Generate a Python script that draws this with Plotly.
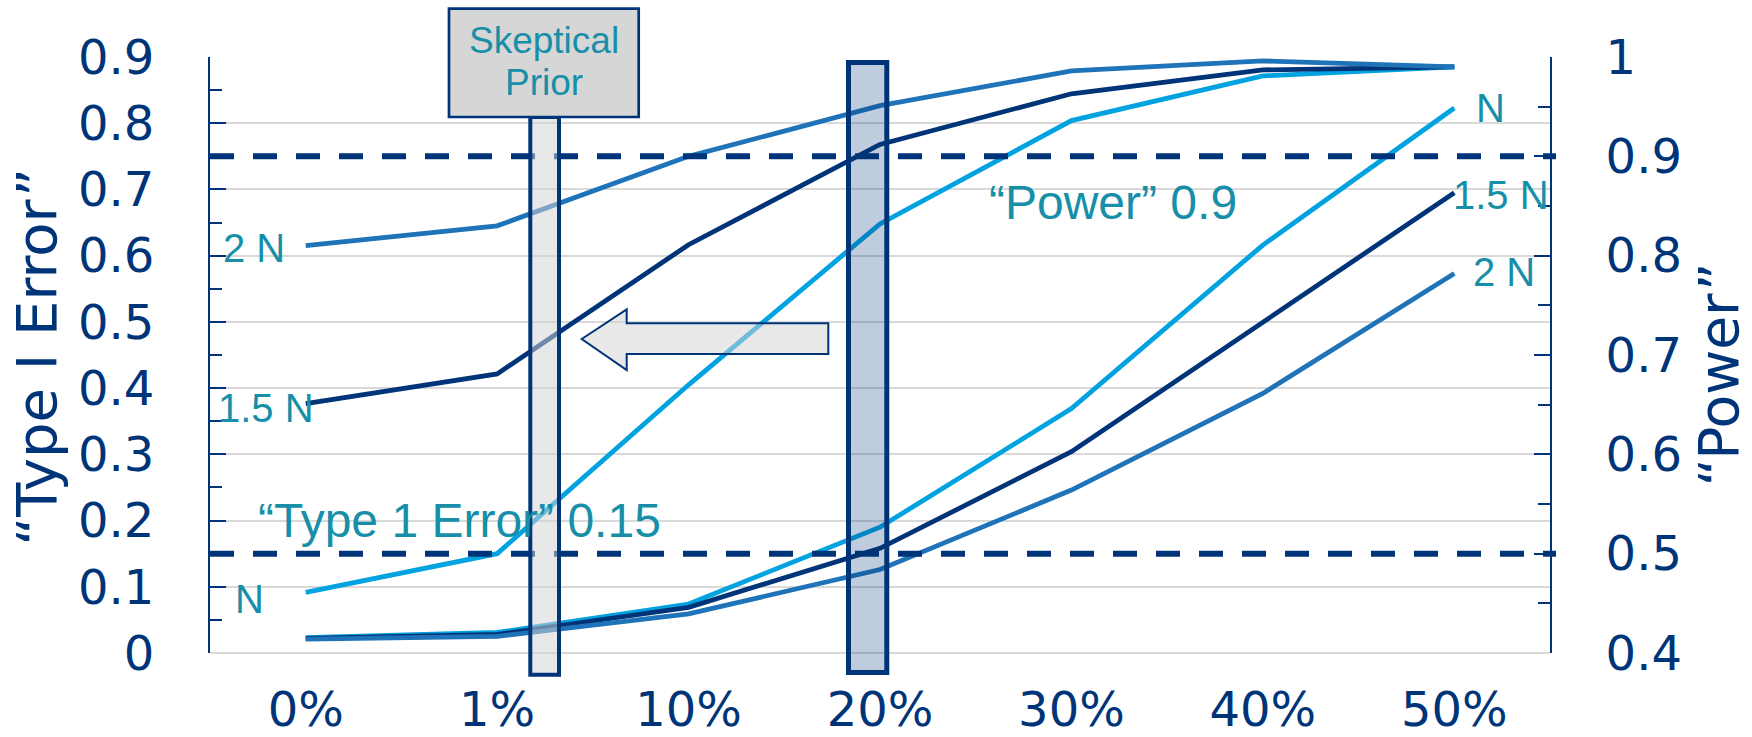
import plotly.graph_objects as go

# ---------------- data ----------------
categories = ["0%", "1%", "10%", "20%", "30%", "40%", "50%"]

type1_N = [0.023, 0.031, 0.074, 0.190, 0.369, 0.616, 0.823]
type1_15N = [0.022, 0.028, 0.069, 0.158, 0.304, 0.499, 0.695]
type1_2N = [0.021, 0.025, 0.059, 0.126, 0.246, 0.392, 0.573]

power_N = [0.461, 0.500, 0.670, 0.832, 0.936, 0.981, 0.990]
power_15N = [0.651, 0.681, 0.811, 0.912, 0.963, 0.987, 0.990]
power_2N = [0.810, 0.830, 0.900, 0.951, 0.986, 0.996, 0.990]

type1_tickvals = [0, 0.1, 0.2, 0.3, 0.4, 0.5, 0.6, 0.7, 0.8, 0.9]
type1_ticktext = ["0", "0.1", "0.2", "0.3", "0.4", "0.5", "0.6", "0.7", "0.8", "0.9"]
power_tickvals = [0.4, 0.5, 0.6, 0.7, 0.8, 0.9, 1.0]
power_ticktext = ["0.4", "0.5", "0.6", "0.7", "0.8", "0.9", "1"]

type1_threshold = 0.15
power_threshold = 0.9

# ---------------- style ----------------
NAVY = "#003478"
LIGHT = "#00a3e0"
MID = "#1f73b8"
TEAL = "#178fa8"
TICKFONT = "Verdana, DejaVu Sans, sans-serif"
TXTFONT = "Arial, Liberation Sans, sans-serif"

W, H = 1752, 737
L, R, T, B = 210, 1550, 57, 653  # plot area in pixels


def px(x):
    return (x - L) / (R - L)


def py(y):
    return (B - y) / (B - T)


fig = go.Figure()

series = [
    (type1_N, LIGHT, "y"),
    (type1_15N, NAVY, "y"),
    (type1_2N, MID, "y"),
    (power_N, LIGHT, "y2"),
    (power_15N, NAVY, "y2"),
    (power_2N, MID, "y2"),
]
for vals, col, ax in series:
    fig.add_trace(go.Scatter(
        x=categories, y=vals, yaxis=ax, mode="lines",
        line=dict(color=col, width=4.8), showlegend=False, hoverinfo="skip",
    ))

shapes = []
# threshold dashed lines
shapes.append(dict(type="line", xref="paper", yref="y", x0=0, x1=px(1556),
                   y0=type1_threshold, y1=type1_threshold,
                   line=dict(color=NAVY, width=6, dash="24px,19px"), layer="above"))
shapes.append(dict(type="line", xref="paper", yref="y2", x0=0, x1=px(1556),
                   y0=power_threshold, y1=power_threshold,
                   line=dict(color=NAVY, width=6, dash="24px,19px"), layer="above"))
# skeptical prior bar
shapes.append(dict(type="rect", xref="paper", yref="paper",
                   x0=px(530.3), x1=px(559), y0=py(117), y1=py(674.7),
                   fillcolor="rgba(210,210,210,0.52)", line=dict(color=NAVY, width=4),
                   layer="above"))
# 20% bar
shapes.append(dict(type="rect", xref="paper", yref="paper",
                   x0=px(848.5), x1=px(886.8), y0=py(62.5), y1=py(672.5),
                   fillcolor="rgba(0,52,120,0.25)", line=dict(color=NAVY, width=5),
                   layer="above"))
# arrow
pts = [(581.7, 339), (626.7, 309.3), (626.7, 323.3), (828.3, 323.3),
       (828.3, 354), (626.7, 354), (626.7, 370)]
path = "M " + " L ".join(f"{px(a):.5f},{py(b):.5f}" for a, b in pts) + " Z"
shapes.append(dict(type="path", xref="paper", yref="paper", path=path,
                   fillcolor="rgba(210,210,210,0.52)", line=dict(color=NAVY, width=2),
                   layer="above"))
# skeptical prior box
shapes.append(dict(type="rect", xref="paper", yref="paper",
                   x0=px(449), x1=px(638.7), y0=py(8.7), y1=py(117),
                   fillcolor="#d6d6d6", line=dict(color=NAVY, width=2.7),
                   layer="above"))

annotations = []


def label(text, x, y, size=40, family=TXTFONT, color=TEAL, angle=0):
    annotations.append(dict(text=text, x=px(x), y=py(y), xref="paper", yref="paper",
                            xanchor="center", yanchor="middle", showarrow=False,
                            textangle=angle, font=dict(family=family, size=size, color=color)))


label("Skeptical", 543.5, 40.5, size=37)
label("Prior", 543.5, 82.2, size=37)
label("\u201cType 1 Error\u201d 0.15", 459, 520, size=48)
label("\u201cPower\u201d 0.9", 1113, 202.7, size=48)
label("2 N", 253.5, 248)
label("1.5 N", 266, 407.5)
label("N", 249.7, 598.5)
label("N", 1490, 108)
label("1.5 N", 1501, 194.5)
label("2 N", 1504, 272)
label("\u201cType I Error\u201d", 37, 356.7, size=56, family=TICKFONT, color=NAVY, angle=-90)
label("\u201cPower\u201d", 1719, 374.5, size=55, family=TICKFONT, color=NAVY, angle=-90)

fig.update_layout(
    width=W, height=H, autosize=False,
    margin=dict(l=L, r=W - R, t=T, b=H - B, pad=0, autoexpand=False),
    paper_bgcolor="white", plot_bgcolor="white",
    shapes=shapes, annotations=annotations,
    xaxis=dict(
        type="category", categoryorder="array", categoryarray=categories,
        range=[-0.5, 6.5], showgrid=False, zeroline=False, showline=False,
        ticks="", tickfont=dict(family=TICKFONT, size=48, color=NAVY),
        ticklabelstandoff=24, automargin=False,
    ),
    yaxis=dict(
        range=[0, 0.9], tickvals=type1_tickvals, ticktext=type1_ticktext,
        showgrid=True, gridcolor="#d9d9d9", gridwidth=2,
        zeroline=True, zerolinecolor="#d9d9d9", zerolinewidth=2,
        showline=True, linecolor=NAVY, linewidth=2,
        ticks="inside", ticklen=16, tickwidth=2, tickcolor=NAVY,
        minor=dict(dtick=0.05, ticks="inside", ticklen=12, tickwidth=2,
                   tickcolor=NAVY, showgrid=False),
        tickfont=dict(family=TICKFONT, size=48, color=NAVY),
        ticklabelstandoff=44, automargin=False,
    ),
    yaxis2=dict(
        range=[0.4, 1.0], overlaying="y", side="right",
        tickvals=power_tickvals, ticktext=power_ticktext,
        showgrid=False, zeroline=False,
        showline=True, linecolor=NAVY, linewidth=2,
        ticks="inside", ticklen=16, tickwidth=2, tickcolor=NAVY,
        minor=dict(dtick=0.05, ticks="inside", ticklen=12, tickwidth=2,
                   tickcolor=NAVY, showgrid=False),
        tickfont=dict(family=TICKFONT, size=48, color=NAVY),
        ticklabelstandoff=44, automargin=False,
    ),
)

fig.write_html("out.html", config={"displayModeBar": False},
               post_script="document.body.style.margin='0px';")
